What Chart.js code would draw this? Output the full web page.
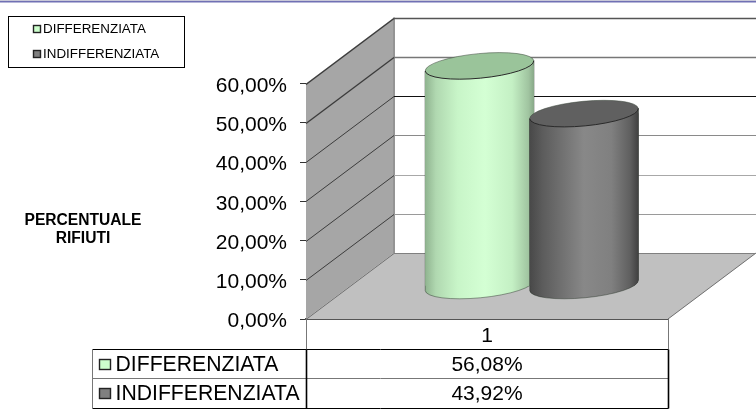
<!DOCTYPE html>
<html><head><meta charset="utf-8">
<script src="https://cdn.jsdelivr.net/npm/chart.js@4"></script>
<style>html,body{margin:0;padding:0;background:#fff}canvas{display:block}</style>
</head><body>
<canvas id="c" width="756" height="416"></canvas>
<script>
const categories = ['1'];
const seriesNames = ['DIFFERENZIATA', 'INDIFFERENZIATA'];
const differenziata = [56.08];
const indifferenziata = [43.92];
const tableValues = ['56,08%', '43,92%'];
const axisTitle = ['PERCENTUALE', 'RIFIUTI'];
const yTicks = [0, 10, 20, 30, 40, 50, 60];
const fmt = v => v.toFixed(2).replace('.', ',') + '%';

const FONT = '"Liberation Sans", Arial, sans-serif';
const DX = 88, DY = -66;
const ROT = -0.095, RY = 12.3;
const gridColor = {0:'#808080',10:'#9a9a9a',20:'#a8a8a8',30:'#8a8a8a',40:'#111111',50:'#777777',60:'#555555'};
const barStyle = [
  {stops: [[0,'#8fb38f'],[0.1,'#b0d8b0'],[0.3,'#c8f5c8'],[0.55,'#d4ffd4'],[0.8,'#c4f0c4'],[0.95,'#a0c4a0'],[1,'#88a888']], top:'#9ac49a', swatch:'#ccffcc', offset:-7.5},
  {stops: [[0,'#484848'],[0.12,'#5c5c5c'],[0.5,'#888888'],[0.75,'#808080'],[0.92,'#606060'],[1,'#404040']], top:'#606060', swatch:'#808080', offset:97}
];

const deco = {
  id: 'deco',
  beforeDatasetsDraw(chart) {
    const {ctx, scales:{y}, chartArea:a} = chart;
    const x0 = a.left, x1 = a.right, b = y.getPixelForValue(0), t = y.getPixelForValue(60);
    ctx.save();
    ctx.fillStyle = '#c8c8d8'; ctx.fillRect(0,0,756,1);
    ctx.fillStyle = '#7070b4'; ctx.fillRect(0,1,756,1.5);
    // floor
    ctx.fillStyle = '#c0c0c0';
    ctx.beginPath(); ctx.moveTo(x0,b); ctx.lineTo(x1,b); ctx.lineTo(x1+DX,b+DY); ctx.lineTo(x0+DX,b+DY); ctx.closePath(); ctx.fill();
    ctx.strokeStyle='#6e6e6e'; ctx.lineWidth=1;
    ctx.beginPath(); ctx.moveTo(x1,b); ctx.lineTo(x1+DX,b+DY); ctx.stroke();
    // side wall
    ctx.fillStyle = '#a6a6a6';
    ctx.beginPath(); ctx.moveTo(x0,b); ctx.lineTo(x0+DX,b+DY); ctx.lineTo(x0+DX,t+DY); ctx.lineTo(x0,t); ctx.closePath(); ctx.fill();
    ctx.fillStyle='#949494'; ctx.fillRect(x0+DX-1,t+DY,2,b-t);
    // grid
    yTicks.forEach(v => {
      const p = Math.round(y.getPixelForValue(v))+0.5;
      ctx.lineWidth = v===60 || v===50 ? 1.4 : 1;
      ctx.strokeStyle = v===0 ? '#6e6e6e' : '#3c3c3c';
      ctx.beginPath(); ctx.moveTo(x0,p); ctx.lineTo(x0+DX,p+DY); ctx.stroke();
      ctx.strokeStyle = gridColor[v];
      ctx.beginPath(); ctx.moveTo(x0+DX,p+DY); ctx.lineTo(756,p+DY); ctx.stroke();
    });
    ctx.restore();
  },
  beforeDatasetDraw(chart, args) {
    const {ctx, scales:{x}} = chart, st = barStyle[args.index], el = args.meta.data[0];
    const centre = x.getPixelForValue(0) + st.offset;
    ctx.save();
    ctx.translate(centre - el.x, DY/2);
    const hw = el.width/2, cx = el.x, base = el.base, top = el.y, drop = hw*Math.sin(-ROT);
    const g = ctx.createLinearGradient(cx-hw,0,cx+hw,0);
    st.stops.forEach(s => g.addColorStop(s[0], s[1]));
    el.options = Object.assign({}, el.options, {backgroundColor:g, borderWidth:0});
    const outline = () => {
      ctx.beginPath();
      ctx.moveTo(cx-hw,top+drop); ctx.lineTo(cx+hw,top-drop); ctx.lineTo(cx+hw,base-drop);
      ctx.ellipse(cx,base,hw,RY,ROT,0,Math.PI);
      ctx.closePath();
    };
    outline(); ctx.fillStyle=g; ctx.fill();
    ctx.strokeStyle='rgba(40,50,40,.45)'; ctx.lineWidth=1; ctx.stroke();
    ctx.save();
    outline(); ctx.clip();
  },
  afterDatasetDraw(chart, args) {
    const {ctx} = chart, st = barStyle[args.index], el = args.meta.data[0];
    ctx.restore();
    ctx.fillStyle = st.top; ctx.lineWidth=1;
    ctx.beginPath(); ctx.ellipse(el.x,el.y,el.width/2,RY,ROT,0,2*Math.PI); ctx.fill();
    ctx.strokeStyle='rgba(70,80,70,.55)';
    ctx.beginPath(); ctx.ellipse(el.x,el.y,el.width/2,RY,ROT,Math.PI,2*Math.PI); ctx.stroke();
    ctx.strokeStyle='#2a2a2a';
    ctx.beginPath(); ctx.ellipse(el.x,el.y,el.width/2,RY,ROT,0,Math.PI); ctx.stroke();
    ctx.restore();
  },
  afterDraw(chart) {
    const {ctx, chartArea:a, scales:{x}} = chart;
    ctx.save();
    // legend
    ctx.strokeStyle='#000'; ctx.lineWidth=1; ctx.strokeRect(8.5,16.5,176,51);
    ctx.font='13.4px '+FONT; ctx.textBaseline='middle'; ctx.textAlign='left';
    seriesNames.forEach((n,i) => {
      const y = 29 + i*25;
      ctx.fillStyle=barStyle[i].swatch; ctx.strokeStyle='#222'; ctx.lineWidth=1.4;
      ctx.fillRect(33.5,y-3.5,7,7); ctx.strokeRect(33.5,y-3.5,7,7);
      ctx.fillStyle='#000'; ctx.fillText(n,43,y+0.5);
    });
    // axis title
    ctx.font='bold 15.6px '+FONT; ctx.textAlign='center';
    axisTitle.forEach((t,i) => ctx.fillText(t,83,220.5+i*18));
    // data table
    const L=92.5, V=a.left+0.5, R=a.right+0.5, rows=[349.5,378.5,408.5], B=a.bottom;
    ctx.lineWidth=1;
    ctx.strokeStyle='#000'; ctx.beginPath();
    ctx.moveTo(L,rows[0]);ctx.lineTo(R,rows[0]);ctx.moveTo(L,rows[2]);ctx.lineTo(R,rows[2]);ctx.stroke();
    ctx.strokeStyle='#777'; ctx.beginPath();
    ctx.moveTo(L,rows[1]);ctx.lineTo(R,rows[1]);ctx.moveTo(L,rows[0]);ctx.lineTo(L,rows[2]);
    ctx.moveTo(V,B);ctx.lineTo(V,rows[0]);ctx.moveTo(R,B);ctx.lineTo(R,rows[0]);ctx.stroke();
    ctx.strokeStyle='#000'; ctx.lineWidth=1.6; ctx.beginPath();
    ctx.moveTo(V,rows[0]);ctx.lineTo(V,rows[2]);ctx.moveTo(R,rows[0]);ctx.lineTo(R,rows[2]);ctx.stroke();
    ctx.font='21.2px '+FONT;
    seriesNames.forEach((n,i)=>{
      const y=rows[i]+15.5;
      ctx.fillStyle=barStyle[i].swatch; ctx.strokeStyle='#222'; ctx.lineWidth=1.4;
      ctx.fillRect(99.5,y-5.5,11,10); ctx.strokeRect(99.5,y-5.5,11,10);
      ctx.fillStyle='#000'; ctx.textAlign='left'; ctx.fillText(n,115.5,y);
      ctx.font='21px '+FONT; ctx.textAlign='center'; ctx.fillText(tableValues[i],x.getPixelForValue(0),y);
      ctx.font='21.2px '+FONT;
    });
    ctx.restore();
  }
};

new Chart(document.getElementById('c'), {
  type: 'bar',
  plugins: [deco],
  data: {
    labels: categories,
    datasets: [
      {label: seriesNames[0], data: differenziata, order: 1, clip: false, backgroundColor:'#ccffcc', barThickness:109},
      {label: seriesNames[1], data: indifferenziata, order: 0, clip: false, backgroundColor:'#808080', barThickness:109}
    ]
  },
  options: {
    responsive: false, animation: false,
    devicePixelRatio: 1,
    layout: {padding: {left: 216, top: 83.5, right: 88, bottom: 67}},
    plugins: {legend: {display:false}, tooltip:{enabled:false}, title:{display:false}},
    scales: {
      x: {
        afterFit(s){s.height=30;},
        grid:{display:false, drawTicks:false},
        border:{display:true,color:'#555',width:2},
        ticks:{color:'#000',font:{family:FONT,size:21},padding:5,maxRotation:0}
      },
      y: {
        min:0,max:60,
        afterFit(s){s.width=90;},
        afterBuildTicks(s){s.ticks=yTicks.map(v=>({value:v}));},
        grid:{drawOnChartArea:false,drawTicks:true,tickLength:6,color:'#333'},
        border:{display:true,color:'#222',width:1},
        ticks:{color:'#000',font:{family:FONT,size:21},padding:13,labelOffset:2.5,callback:v=>fmt(v)}
      }
    }
  }
});
</script>
</body></html>
